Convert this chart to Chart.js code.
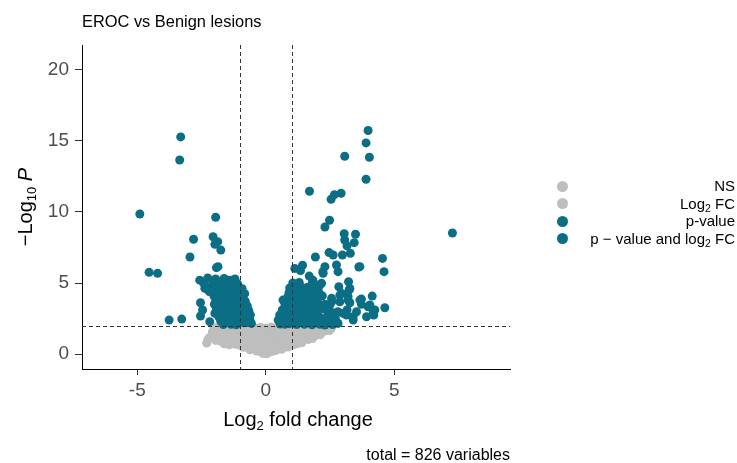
<!DOCTYPE html>
<html>
<head>
<meta charset="utf-8">
<script src="https://cdn.jsdelivr.net/npm/chart.js@4.4.1/dist/chart.umd.min.js"></script>
<style>
  html, body { margin: 0; padding: 0; background: #ffffff; }
  #wrap { position: relative; width: 737px; height: 463px; font-family: "Liberation Sans", Arial, sans-serif; }
  #chart { position: absolute; left: 0; top: 0; }
  .title { position: absolute; left: 82px; top: 12px; font-size: 16.4px; line-height: 18px; color: #000; white-space: nowrap; }
  .caption { position: absolute; right: 227px; top: 446px; font-size: 16px; line-height: 18px; color: #000; white-space: nowrap; }
  .leg-dot { position: absolute; width: 11px; height: 11px; border-radius: 50%; }
  .leg-txt { position: absolute; right: 2px; font-size: 15px; line-height: 18px; color: #000; white-space: nowrap; text-align: right; }
  sub { font-size: 10.5px; vertical-align: -3px; line-height: 0; }
</style>
</head>
<body>
<div id="wrap">
  <canvas id="chart" width="737" height="463"></canvas>
  <div class="title">EROC vs Benign lesions</div>
  <div class="caption">total = 826 variables</div>
  <div id="legend"></div>
</div>
<script>
// ---- Data ----
const seriesNames = ["NS", "Log<sub>2</sub> FC", "p-value", "p \u2212 value and log<sub>2</sub> FC"];
const seriesColors = ["#bebebe", "#bebebe", "#0b6e85", "#0b6e85"];
const xTickValues = [-5, 0, 5];
const yTickValues = [0, 5, 10, 15, 20];
const xCutoffs = [-1, 1];
const yCutoff = 2;

// NS: |log2FC| < 1, -log10 p < 2
const nsPoints = [
  [-0.82,1.86],[-0.61,1.9],[-0.4,1.83],[-0.2,1.88],[0.02,1.84],[0.21,1.9],[0.4,1.85],[0.6,1.88],[0.8,1.83],[0.95,1.9],
  [-0.91,1.55],[-0.7,1.6],[-0.49,1.52],[-0.3,1.58],[-0.1,1.5],[0.1,1.57],[0.3,1.53],[0.5,1.6],[0.71,1.54],[0.9,1.58],
  [-0.85,1.22],[-0.65,1.28],[-0.44,1.2],[-0.25,1.26],[-0.05,1.22],[0.15,1.3],[0.35,1.21],[0.55,1.27],[0.76,1.2],[0.95,1.25],
  [-0.95,0.97],[-0.75,0.92],[-0.55,0.98],[-0.35,0.9],[-0.15,0.95],[0.05,0.9],[0.25,0.96],[0.45,0.92],[0.65,0.98],[0.85,0.93],
  [-0.98,0.7],[-0.8,0.66],[-0.6,0.72],[-0.4,0.64],[-0.2,0.68],[0.0,0.62],[0.2,0.7],[0.4,0.66],[0.6,0.72],[0.8,0.68],[0.97,0.74],
  [-0.88,0.48],[-0.7,0.44],[-0.5,0.4],[-0.3,0.36],[-0.12,0.33],[0.1,0.3],[0.28,0.38],[0.48,0.42],[0.68,0.46],[0.86,0.5],
  [-0.36,0.22],[-0.2,0.16],[-0.04,0.1],[0.12,0.14],[0.26,0.2],[0.4,0.26],
  [-0.1,0.04],[0.04,0.02],[-0.62,0.3],[0.62,0.34]
];

// Log2 FC: |log2FC| > 1, -log10 p < 2
const fcPoints = [
  [-2.26,0.99],[-2.3,0.77],[-2.2,1.15],
  [-2.02,1.86],[-1.82,1.9],[-1.62,1.84],[-1.42,1.88],[-1.22,1.83],[-1.04,1.9],
  [-2.08,1.55],[-1.9,1.6],[-1.7,1.52],[-1.5,1.58],[-1.3,1.5],[-1.1,1.56],
  [-2.05,1.25],[-1.86,1.2],[-1.66,1.28],[-1.46,1.22],[-1.26,1.27],[-1.06,1.2],
  [-1.95,0.96],[-1.76,0.92],[-1.56,0.98],[-1.36,0.9],[-1.16,0.95],
  [-1.62,0.72],[-1.42,0.66],[-1.22,0.7],[-1.04,0.64],
  [1.15,1.86],[1.35,1.9],[1.55,1.84],[1.75,1.88],[1.95,1.83],[2.15,1.9],[2.35,1.85],[2.55,1.82],
  [1.1,1.55],[1.3,1.6],[1.5,1.52],[1.7,1.58],[1.9,1.54],[2.1,1.57],[2.3,1.62],[2.48,1.66],
  [1.15,1.22],[1.35,1.28],[1.55,1.2],[1.75,1.27],[1.95,1.32],[2.12,1.36],
  [1.05,0.97],[1.25,0.92],[1.45,0.98],[1.65,1.02],[1.82,1.1],
  [1.08,0.66],[1.22,0.72],[1.4,0.8]
];

// p-value: |log2FC| < 1, -log10 p > 2
const pvalPoints = [
  [-0.92,4.6],[-0.96,4.3],[-0.82,4.25],[-0.9,4.0],[-0.95,3.7],[-0.8,3.72],[-0.9,3.42],[-0.72,3.38],
  [-0.95,3.1],[-0.8,3.12],[-0.66,3.05],[-0.88,2.8],[-0.72,2.82],[-0.6,2.76],[-0.92,2.5],[-0.76,2.52],
  [-0.62,2.46],[-0.85,2.2],[-0.68,2.22],[-0.56,2.16],
  [0.93,4.65],[0.9,4.3],[0.85,4.0],[0.67,3.8],[0.95,3.82],[0.75,3.5],[0.9,3.52],[0.8,3.2],[0.95,3.22],
  [0.64,3.1],[0.7,2.9],[0.88,2.92],[0.54,2.75],[0.62,2.6],[0.78,2.62],[0.94,2.58],[0.48,2.39],
  [0.66,2.32],[0.84,2.34],[0.56,2.12],[0.74,2.1],[0.92,2.14]
];

// p-value and log2 FC: |log2FC| > 1, -log10 p > 2
const sigPoints = [
  [-4.90,9.86],[-3.31,15.28],[-3.35,13.66],[-4.54,5.75],[-4.21,5.68],[-2.81,8.08],[-2.95,6.83],
  [-1.95,9.63],[-2.05,8.26],[-1.87,7.91],[-1.98,7.72],[-1.75,7.32],[-1.92,6.08],[-1.86,6.15],
  [-3.76,2.39],[-3.27,2.46],[-2.54,3.61],[-2.46,3.10],[-2.54,2.68],[-2.18,2.28],[-2.37,4.62],[-1.98,2.86],
  [-2.57,5.2],[-2.26,5.35],[-1.95,5.28],[-1.62,5.32],[-1.4,5.2],[-1.2,5.28],
  [-2.42,5.0],[-2.06,5.02],[-1.82,4.98],[-1.67,5.04],[-1.5,4.96],[-1.3,5.02],[-1.1,4.95],
  [-2.15,4.72],[-1.9,4.68],[-1.72,4.74],[-1.55,4.66],[-1.38,4.72],[-1.22,4.68],[-1.06,4.74],
  [-2.2,4.4],[-2.0,4.44],[-1.82,4.38],[-1.63,4.42],[-1.46,4.36],[-1.3,4.42],[-1.14,4.4],
  [-2.02,4.1],[-1.85,4.14],[-1.68,4.08],[-1.52,4.12],[-1.36,4.06],[-1.2,4.12],[-1.04,4.08],
  [-1.95,3.8],[-1.78,3.84],[-1.6,3.78],[-1.44,3.82],[-1.28,3.76],[-1.12,3.82],
  [-2.0,3.5],[-1.84,3.46],[-1.68,3.52],[-1.52,3.48],[-1.36,3.54],[-1.2,3.48],[-1.05,3.5],
  [-1.92,3.2],[-1.75,3.24],[-1.58,3.18],[-1.42,3.22],[-1.26,3.16],[-1.1,3.22],
  [-1.86,2.9],[-1.7,2.94],[-1.54,2.88],[-1.38,2.92],[-1.22,2.86],[-1.06,2.92],
  [-1.82,2.6],[-1.66,2.64],[-1.5,2.58],[-1.34,2.62],[-1.18,2.56],[-1.03,2.62],
  [-1.75,2.3],[-1.58,2.34],[-1.42,2.28],[-1.26,2.32],[-1.1,2.26],
  [-1.65,2.08],[-1.35,2.1],[-1.15,2.06],
  [3.98,15.73],[3.90,14.86],[3.07,13.92],[4.03,13.85],[3.90,12.30],[1.70,11.46],[2.93,11.32],[2.67,11.22],
  [2.54,10.89],[2.48,9.42],[2.30,8.94],[7.26,8.52],[3.05,8.47],[3.49,8.43],[3.07,8.03],[3.44,7.84],
  [3.16,7.61],[3.29,7.09],[2.98,6.97],[4.54,6.73],[4.60,5.80],[3.62,6.13],[1.93,6.83],[2.46,7.14],
  [2.62,6.97],[2.75,6.27],[2.30,6.15],[2.81,5.80],[2.23,5.68],[1.13,6.03],[1.43,6.25],[1.35,5.87],
  [1.69,5.49],[1.80,4.98],[2.10,4.86],[3.22,5.09],[3.27,4.62],[2.84,4.74],[2.95,4.27],[3.20,4.04],
  [4.14,4.08],[3.72,3.87],[3.72,3.50],[3.98,3.33],[4.24,3.10],[4.63,3.26],[4.20,2.75],[3.53,2.98],
  [3.16,3.10],[3.01,2.86],[3.40,2.63],[2.81,2.16],[2.56,2.86],[2.56,3.68],[2.88,4.15],[3.27,3.61],
  [1.83,5.2],[2.17,4.98],[2.22,5.8],[3.66,6.15],[3.24,4.5],[2.56,3.92],[2.49,3.45],[2.88,3.68],
  [3.2,3.8],[2.81,2.98],[3.14,2.75],[2.75,2.27],[3.66,3.8],[4.05,3.45],[4.18,2.98],[3.4,2.39],
  [3.92,2.63],[2.43,2.86],[2.36,2.51],[2.3,2.04],
  [1.05,5.0],[1.3,5.04],
  [1.1,4.7],[1.35,4.74],[1.6,4.68],[1.9,4.72],
  [1.05,4.4],[1.25,4.44],[1.45,4.38],[1.65,4.42],[1.85,4.36],[2.05,4.4],
  [1.1,4.1],[1.3,4.14],[1.5,4.08],[1.7,4.12],[1.95,4.06],[2.2,4.1],
  [1.05,3.8],[1.2,3.84],[1.4,3.78],[1.6,3.82],[1.8,3.76],[2.0,3.82],
  [1.1,3.5],[1.28,3.46],[1.46,3.52],[1.64,3.48],[1.85,3.54],[2.1,3.48],[2.3,3.5],
  [1.05,3.2],[1.2,3.24],[1.38,3.18],[1.56,3.22],[1.75,3.16],[1.95,3.22],[2.25,3.18],
  [1.1,2.9],[1.28,2.94],[1.46,2.88],[1.64,2.92],[1.82,2.86],[2.0,2.92],[2.6,2.9],
  [1.05,2.6],[1.22,2.64],[1.4,2.58],[1.58,2.62],[1.76,2.56],[1.94,2.62],[2.12,2.58],[2.55,2.56],[2.7,2.6],
  [1.1,2.3],[1.28,2.34],[1.46,2.28],[1.64,2.32],[1.82,2.26],[2.0,2.32],[2.2,2.28],[2.45,2.3],
  [1.2,2.08],[1.5,2.1],[1.8,2.06],[2.1,2.1],[2.6,2.08]
];

const seriesPoints = [nsPoints, fcPoints, pvalPoints, sigPoints];

// ---- Chart ----
const FONT = '"Liberation Sans", Arial, sans-serif';

function drawRich(ctx, parts) {
  let total = 0;
  parts.forEach(p => {
    ctx.font = (p.italic ? 'italic ' : '') + p.size + 'px ' + FONT;
    p.w = ctx.measureText(p.text).width;
    total += p.w;
  });
  let x = -total / 2;
  parts.forEach(p => {
    ctx.font = (p.italic ? 'italic ' : '') + p.size + 'px ' + FONT;
    ctx.fillText(p.text, x, p.dy || 0);
    x += p.w;
  });
}

const cutoffLines = {
  id: 'cutoffLines',
  afterDatasetsDraw(chart) {
    const {ctx, chartArea, scales} = chart;
    ctx.save();
    ctx.strokeStyle = '#333333';
    ctx.lineWidth = 1;
    ctx.setLineDash([4, 3]);
    xCutoffs.forEach(v => {
      const px = Math.round(scales.x.getPixelForValue(v)) + 0.5;
      ctx.beginPath();
      ctx.moveTo(px, chartArea.top);
      ctx.lineTo(px, chartArea.bottom);
      ctx.stroke();
    });
    const py = Math.round(scales.y.getPixelForValue(yCutoff)) + 0.5;
    ctx.beginPath();
    ctx.moveTo(chartArea.left, py);
    ctx.lineTo(chartArea.right, py);
    ctx.stroke();
    ctx.restore();
  },
  afterDraw(chart) {
    const {ctx, chartArea} = chart;
    ctx.save();
    ctx.fillStyle = '#000000';
    ctx.textBaseline = 'alphabetic';
    ctx.textAlign = 'left';
    // x-axis title
    ctx.save();
    ctx.translate((chartArea.left + chartArea.right) / 2 + 2, 426);
    drawRich(ctx, [
      {text: 'Log', size: 20},
      {text: '2', size: 13, dy: 4},
      {text: ' fold change', size: 20}
    ]);
    ctx.restore();
    // y-axis title
    ctx.save();
    ctx.translate(32, (chartArea.top + chartArea.bottom) / 2);
    ctx.rotate(-Math.PI / 2);
    drawRich(ctx, [
      {text: '\u2212Log', size: 20},
      {text: '10', size: 13, dy: 4},
      {text: ' ', size: 20},
      {text: 'P', size: 20, italic: true}
    ]);
    ctx.restore();
    ctx.restore();
  }
};

const datasets = seriesPoints.map((pts, i) => ({
  label: seriesNames[i].replace(/<[^>]+>/g, ''),
  data: pts.map(p => ({x: p[0], y: p[1]})),
  backgroundColor: seriesColors[i],
  borderWidth: 0,
  pointRadius: 4.5,
  pointHoverRadius: 4.5,
  order: i < 2 ? 1 : 0
}));

new Chart(document.getElementById('chart'), {
  type: 'scatter',
  data: { datasets },
  options: {
    responsive: false,
    animation: false,
    events: [],
    layout: { padding: { left: 0, top: 45, right: 227, bottom: 0 } },
    plugins: { legend: { display: false }, tooltip: { enabled: false }, title: { display: false } },
    scales: {
      x: {
        type: 'linear',
        min: -7.15, max: 9.5,
        afterBuildTicks: s => { s.ticks = xTickValues.map(v => ({value: v})); },
        afterFit: s => { s.height = 94; },
        grid: { drawOnChartArea: false, drawTicks: true, tickLength: 6, tickColor: '#333333', tickWidth: 1 },
        border: { display: true, color: '#000000', width: 1 },
        ticks: { color: '#4d4d4d', font: { family: FONT, size: 19 }, padding: 4, maxRotation: 0 },
        title: { display: false }
      },
      y: {
        type: 'linear',
        min: -1.05, max: 21.75,
        afterBuildTicks: s => { s.ticks = yTickValues.map(v => ({value: v})); },
        afterFit: s => { s.width = 82; },
        grid: { drawOnChartArea: false, drawTicks: true, tickLength: 7, tickColor: '#333333', tickWidth: 1 },
        border: { display: true, color: '#000000', width: 1 },
        ticks: { color: '#4d4d4d', font: { family: FONT, size: 19 }, padding: 6 },
        title: { display: false }
      }
    }
  },
  plugins: [cutoffLines]
});

// ---- Legend (HTML) ----
const legendRowsY = [186, 203.5, 221, 238.5];
const legend = document.getElementById('legend');
seriesNames.forEach((name, i) => {
  const dot = document.createElement('div');
  dot.className = 'leg-dot';
  dot.style.left = (562 - 5.5) + 'px';
  dot.style.top = (legendRowsY[i] - 5.5) + 'px';
  dot.style.background = seriesColors[i];
  legend.appendChild(dot);
  const txt = document.createElement('div');
  txt.className = 'leg-txt';
  txt.style.top = (legendRowsY[i] - 9) + 'px';
  txt.innerHTML = name;
  legend.appendChild(txt);
});
</script>
</body>
</html>
